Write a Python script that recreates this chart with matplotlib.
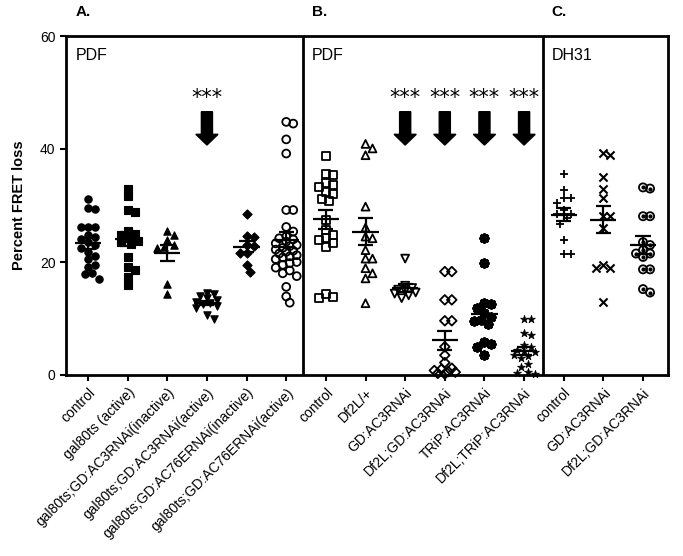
import numpy as np
import matplotlib
matplotlib.use("Agg")
import matplotlib.pyplot as plt

plt.rcParams['font.family'] = ['Liberation Sans', 'DejaVu Sans']

# ---------------- data ----------------
labels = ["control", "gal80ts (active)", "gal80ts;GD:AC3RNAi(inactive)",
          "gal80ts;GD:AC3RNAi(active)", "gal80ts;GD:AC76ERNAi(inactive)",
          "gal80ts;GD:AC76ERNAi(active)",
          "control", "Df2L/+", "GD:AC3RNAi", "Df2L;GD:AC3RNAi", "TRiP:AC3RNAi",
          "Df2L;TRiP:AC3RNAi",
          "control", "GD:AC3RNAi", "Df2L;GD:AC3RNAi"]

a_control = [31.2, 29.6, 29.4, 26.2, 26.2, 26.2, 24.8, 24.5, 24.0, 23.5, 23.0, 22.5,
             21.8, 21.0, 20.5, 19.5, 19.2, 18.0, 17.8, 17.0]
a_gal80 = [33.0, 31.7, 29.2, 28.9, 25.5, 25.0, 24.8, 24.2, 23.8, 23.5, 23.2, 20.9,
           19.2, 18.6, 17.4, 15.9]
a_ac3_inact = [25.4, 24.8, 23.9, 23.0, 22.7, 22.5, 16.1, 14.3]
a_ac3_act = [14.6, 14.3, 14.0, 13.6, 13.3, 13.0, 12.7, 12.5, 12.2, 11.9, 10.6, 9.9]
a_ac76_inact = [28.5, 24.6, 24.4, 23.0, 22.8, 21.6, 21.6, 19.4, 18.3]
a_ac76_act = [44.8, 44.5, 41.7, 39.2, 29.2, 29.2, 26.2, 25.4, 24.5, 24.2, 24.0, 23.6,
              23.3, 23.0, 22.8, 22.5, 22.2, 22.0, 21.8, 21.5, 21.2, 21.0, 20.8, 20.5,
              20.0, 19.8, 19.5, 19.0, 18.5, 18.0, 17.5, 15.6, 13.9, 12.8]
b_control = [38.8, 35.6, 35.4, 34.0, 33.6, 33.2, 32.4, 32.0, 31.2, 30.8, 27.4, 25.7,
             24.8, 24.2, 23.9, 23.4, 22.7, 14.3, 13.8, 13.6]
b_df2l = [40.9, 40.1, 38.9, 29.8, 26.1, 24.5, 24.2, 22.1, 20.6, 20.6, 18.9, 18.0,
          17.1, 12.7]
b_gd = [20.6, 15.8, 15.4, 15.1, 14.9, 14.6, 14.4, 14.1, 13.6]
b_df2l_gd = [18.3, 18.3, 13.3, 13.3, 9.6, 9.6, 5.0, 3.5, 2.2, 1.2, 1.0, 0.8, 0.6,
             0.5, 0.3, 0.2]
b_trip = [24.2, 19.8, 12.8, 12.6, 11.8, 11.0, 10.3, 9.8, 9.6, 9.0, 5.8, 5.5, 5.0, 3.5]
b_df2l_trip = [10.0, 10.0, 7.4, 7.1, 5.3, 5.0, 4.5, 4.2, 4.0, 3.6, 3.4, 3.0, 2.0,
               1.5, 0.6, 0.3, 0.2]
c_control = [35.6, 32.7, 31.4, 31.4, 30.4, 29.2, 28.5, 28.5, 28.5, 27.7, 26.8, 23.9,
             21.4, 21.4]
c_gd = [39.3, 38.9, 35.1, 33.0, 31.3, 28.1, 28.1, 26.1, 19.5, 18.9, 18.9, 13.0]
c_df2l_gd = [33.2, 33.0, 28.1, 28.1, 23.5, 23.0, 22.1, 21.5, 21.5, 20.9, 18.7, 18.7,
             15.2, 14.6]

groups = [a_control, a_gal80, a_ac3_inact, a_ac3_act, a_ac76_inact, a_ac76_act,
          b_control, b_df2l, b_gd, b_df2l_gd, b_trip, b_df2l_trip,
          c_control, c_gd, c_df2l_gd]

arrow_groups = [3, 8, 9, 10, 11]
panel_titles = ["PDF", "PDF", "DH31"]
panel_letters = ["A.", "B.", "C."]

# ---------------- styles ----------------
styles = [
    dict(marker='o', fc='black', ec='black', s=28, lw=0.8),
    dict(marker='s', fc='black', ec='black', s=28, lw=0.8),
    dict(marker='^', fc='black', ec='black', s=28, lw=0.8),
    dict(marker='v', fc='black', ec='black', s=28, lw=0.8),
    dict(marker='D', fc='black', ec='black', s=22, lw=0.8),
    dict(marker='o', fc='none', ec='black', s=32, lw=1.3),
    dict(marker='s', fc='none', ec='black', s=32, lw=1.3),
    dict(marker='^', fc='none', ec='black', s=32, lw=1.3),
    dict(marker='v', fc='none', ec='black', s=32, lw=1.3),
    dict(marker='D', fc='none', ec='black', s=24, lw=1.3),
    dict(marker=(8, 2, 0), fc='black', ec='black', s=30, lw=2.2),
    dict(marker='*', fc='black', ec='black', s=36, lw=0.5),
    dict(marker='+', fc='black', ec='black', s=40, lw=1.3),
    dict(marker='x', fc='black', ec='black', s=34, lw=1.5),
    dict(marker='o', fc='none', ec='black', s=34, lw=1.3),
]

fig = plt.figure(figsize=(6.83, 5.56), dpi=100)
ax = fig.add_axes([66/683, 1-375/556, (668-66)/683, (375-36)/556])

xmin, xmax = -0.555, 14.63
ymin, ymax = 0, 60
ax.set_xlim(xmin, xmax)
ax.set_ylim(ymin, ymax)

# pixel scales for the swarm layout
px_x = (668-66) / (xmax - xmin)
px_y = (375-36) / (ymax - ymin)


def swarm(vals, diam=7.0, max_half=12.5):
    placed = []
    order = np.argsort(vals)[::-1]
    xs = np.zeros(len(vals))
    step = diam * 0.5
    kmax = int(max_half // step)
    for i in order:
        y = vals[i] * px_y
        best, best_d = 0.0, -1.0
        chosen = None
        for k in range(kmax + 1):
            for c in ([0] if k == 0 else [k, -k]):
                x = c * step
                dmin = min([np.hypot(x-px, y-py) for px, py in placed] or [1e9])
                if dmin >= diam:
                    chosen = x
                    break
                if dmin > best_d:
                    best, best_d = x, dmin
            if chosen is not None:
                break
        if chosen is None:
            chosen = best
        placed.append((chosen, y))
        xs[i] = chosen / px_x
    return xs


for i, (vals, st) in enumerate(zip(groups, styles)):
    v = np.array(vals)
    xs = i + swarm(v)
    ax.scatter(xs, v, marker=st['marker'], s=st['s'], facecolors=st['fc'],
               edgecolors=st['ec'], linewidths=st['lw'], zorder=3, clip_on=False)
    if i == 14:
        ax.scatter(xs, v, marker='o', s=4, color='black', zorder=4)
    m = v.mean()
    se = v.std(ddof=1) / np.sqrt(len(v))
    ax.hlines(m, i-0.33, i+0.33, color='black', lw=1.6, zorder=5)
    ax.hlines([m-se, m+se], i-0.19, i+0.19, color='black', lw=1.6, zorder=5)
    ax.vlines(i, m-se, m+se, color='black', lw=1.6, zorder=5)

for g in arrow_groups:
    ax.arrow(g, 46.6, 0, -5.9, width=0.28, head_width=0.56, head_length=1.9,
             length_includes_head=True, color='black', zorder=5)
    ax.text(g, 47.3, "***", ha='center', va='bottom', fontsize=15,
            family='DejaVu Sans')

# panel dividers
for xd in [5.42, 11.48]:
    ax.axvline(xd, color='black', lw=2)

for sp in ax.spines.values():
    sp.set_linewidth(2)

ax.set_xticks(range(len(labels)))
ax.set_xticklabels(labels, rotation=45, ha='right', rotation_mode='anchor',
                   fontsize=10)
ax.set_yticks([0, 20, 40, 60])
ax.tick_params(axis='both', direction='out', length=4, width=1.5, labelsize=10)
ax.set_ylabel("Percent FRET loss", fontsize=10.5, fontweight='bold', labelpad=10)

# panel titles and letters
for xp, t in zip([-0.3, 5.65, 11.7], panel_titles):
    ax.text(xp, 56.5, t, ha='left', va='center', fontsize=11.5)
for xp, t in zip([-0.3, 5.65, 11.7], panel_letters):
    ax.text(xp, 64.2, t, ha='left', va='center', fontsize=11, fontweight='bold')

fig.savefig("out.png", dpi=100)
